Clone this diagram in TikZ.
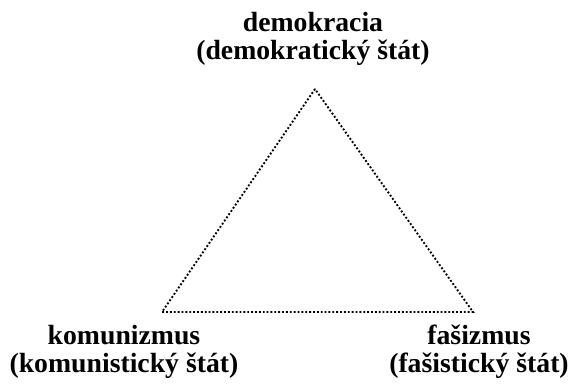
\documentclass[tikz,border=0pt]{standalone}
\usepackage{fontspec}
\setmainfont{Liberation Serif}
\begin{document}
\begin{tikzpicture}[x=.75pt, y=-.75pt,
        lbl/.style={font=\bfseries\fontsize{20.8}{21}\selectfont, align=center, anchor=base, inner sep=0pt},
        edge/.style={line width=1.4pt, dash pattern=on 1.4pt off 1.5pt}]
        \useasboundingbox (0,0) rectangle (569,384);

        \coordinate (top) at (315,89);
        \coordinate (left) at (162,312);
        \coordinate (right) at (473,312);
        \draw [edge] (top) -- (left) -- (right) -- cycle;

        \node [lbl] (demo) at (313,60) {demokracia\\(demokratický štát)};
        \node [lbl] (komu) at (124,373) {komunizmus\\(komunistický štát)};
        \node [lbl] (fasi) at (479,373) {fašizmus\\(fašistický štát)};
      \end{tikzpicture}
\end{document}
